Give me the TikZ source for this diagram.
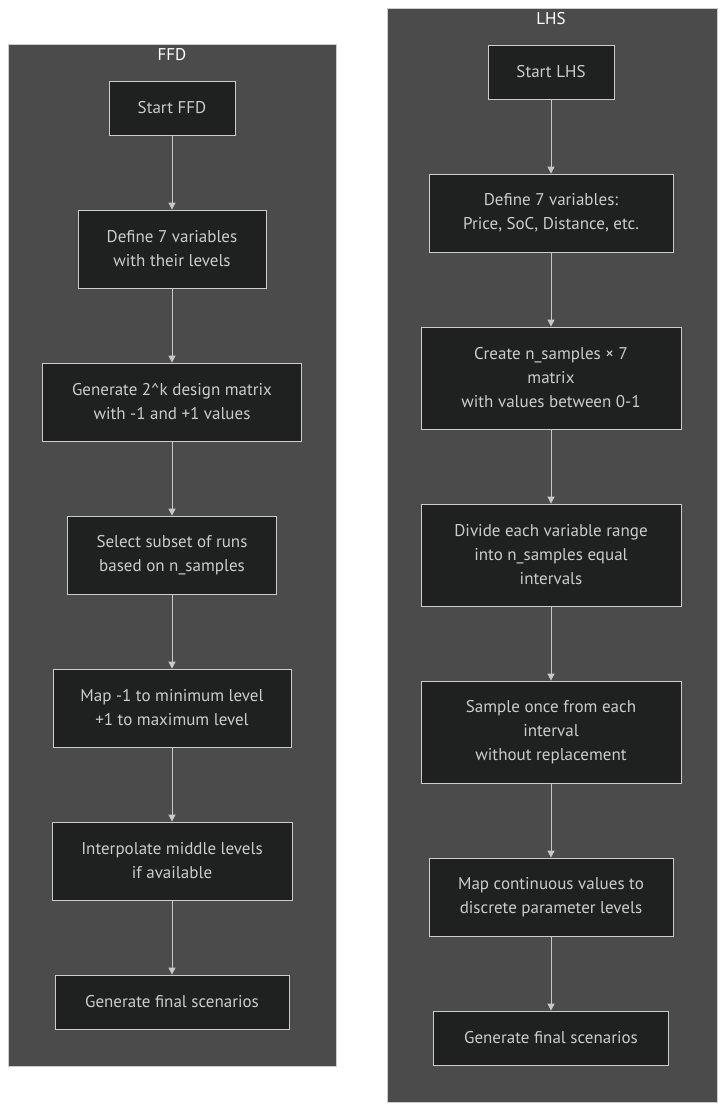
\documentclass[tikz,border=0pt]{standalone}
\usepackage{fontspec}
\setmainfont{PT Sans}
\usetikzlibrary{arrows.meta}
\definecolor{clusterfill}{HTML}{4A4B4A}
\definecolor{clusterline}{HTML}{CCCCCC}
\definecolor{nodefill}{HTML}{1F2020}
\definecolor{nodeline}{HTML}{CCCCCC}
\definecolor{txt}{HTML}{CCCCCC}
\definecolor{edge}{HTML}{C8C8C8}
\begin{document}
\begin{tikzpicture}[x=1pt,y=-1pt,
  cluster/.style={draw=clusterline, fill=clusterfill, line width=0.8pt},
  ctitle/.style={text=white, font=\fontsize{17}{20}\selectfont},
  box/.style={draw=nodeline, fill=nodefill, line width=0.8pt, text=txt,
    align=center, inner sep=0pt, font=\fontsize{17}{24}\selectfont},
  flow/.style={draw=edge, line width=0.8pt, -{Triangle[length=7pt,width=7pt]}}
]
\useasboundingbox (0,0) rectangle (724,1111);
\fill[white] (0,0) rectangle (724,1111);

% clusters
\draw[cluster] (8,44) rectangle (336,1066);
\node[ctitle] (ffdt) at (172,55) {FFD};
\draw[cluster] (387,8) rectangle (717,1102);
\node[ctitle] (lhst) at (551,19) {LHS};

% FFD nodes
\node[box, minimum width=126pt, minimum height=54pt] (f1) at (172,108) {Start FFD};
\node[box, minimum width=188pt, minimum height=78pt] (f2) at (172,249) {Define 7 variables\\with their levels};
\node[box, minimum width=259pt, minimum height=78pt] (f3) at (172,402) {Generate 2\^{}k design matrix\\with -1 and +1 values};
\node[box, minimum width=209pt, minimum height=78pt] (f4) at (172,555) {Select subset of runs\\based on n\_samples};
\node[box, minimum width=238pt, minimum height=78pt] (f5) at (172,708) {Map -1 to minimum level\\+1 to maximum level};
\node[box, minimum width=240pt, minimum height=78pt] (f6) at (172,861) {Interpolate middle levels\\if available};
\node[box, minimum width=234pt, minimum height=54pt] (f7) at (172,1002) {Generate final scenarios};

% LHS nodes
\node[box, minimum width=126pt, minimum height=54pt] (l1) at (551,72) {Start LHS};
\node[box, minimum width=244pt, minimum height=78pt] (l2) at (551,213) {Define 7 variables:\\Price, SoC, Distance, etc.};
\node[box, minimum width=260pt, minimum height=102pt] (l3) at (551,378) {Create n\_samples × 7\\matrix\\with values between 0-1};
\node[box, minimum width=260pt, minimum height=102pt] (l4) at (551,555) {Divide each variable range\\into n\_samples equal\\intervals};
\node[box, minimum width=260pt, minimum height=102pt] (l5) at (551,732) {Sample once from each\\interval\\without replacement};
\node[box, minimum width=244pt, minimum height=78pt] (l6) at (551,897) {Map continuous values to\\discrete parameter levels};
\node[box, minimum width=235pt, minimum height=54pt] (l7) at (551,1038) {Generate final scenarios};

% edges
\foreach \a/\b in {f1/f2,f2/f3,f3/f4,f4/f5,f5/f6,f6/f7,l1/l2,l2/l3,l3/l4,l4/l5,l5/l6,l6/l7}
  \draw[flow] (\a.south) -- (\b.north);
\end{tikzpicture}
\end{document}
